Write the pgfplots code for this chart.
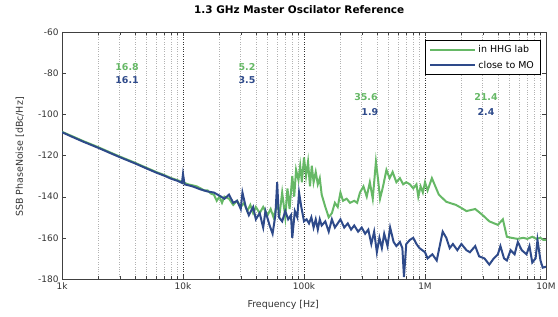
\documentclass[border=0pt]{standalone}
\usepackage{pgfplots}
\pgfplotsset{compat=1.18}
\usepackage{fontspec}
\setmainfont{DejaVu Sans}
\definecolor{cgreen}{HTML}{66B866}
\definecolor{cblue}{HTML}{2E4A8A}
\begin{document}
\begin{tikzpicture}
\useasboundingbox (-62bp,-38bp) rectangle (496bp,279bp);
\begin{axis}[
  at={(0,0)}, anchor=south west,
  scale only axis,
  width=484bp, height=247bp,
  xmode=log,
  xmin=1000, xmax=10000000,
  ymin=-180, ymax=-60,
  ytick={-180,-160,-140,-120,-100,-80,-60},
  xtick={1000,10000,100000,1000000,10000000},
  xticklabels={1k,10k,100k,1M,10M},
  tick align=inside,
  xtick pos=both, ytick pos=both,
  minor x tick num=0,
  xminorgrids=true, xmajorgrids=true,
  ymajorgrids=false,
  minor grid style={dotted, gray!60, line width=0.6pt},
  major grid style={dotted, black!80, line width=0.7pt},
  axis line style={black!75, line width=0.8pt},
  tick style={black!75},
  /pgf/number format/assume math mode=true,
  tick label style={font=\fontsize{9}{10}\selectfont, black!80},
  label style={font=\fontsize{9.5}{11}\selectfont, black!80},
  xlabel={Frequency [Hz]},
  ylabel={SSB PhaseNoise [dBc/Hz]},
  xlabel style={at={(axis description cs:0.457,-0.105)}, anchor=center},
  ylabel style={at={(axis description cs:-0.087,0.494)}, anchor=center},
  title={\bfseries 1.3 GHz Master Oscilator Reference},
  title style={font=\fontsize{10.5}{12}\selectfont, at={(axis description cs:0.49,1.065)}, anchor=center},
  legend style={at={(0.988,0.968)}, anchor=north east, font=\fontsize{9.5}{11}\selectfont, draw=black, line width=0.6pt, row sep=3pt, inner xsep=4pt, inner ysep=3pt},
  legend cell align=left,
  legend image code/.code={\draw[mark repeat=2,mark phase=2,#1] plot coordinates {(0cm,0cm) (0.8cm,0cm) (1.6cm,0cm)};},
]
\addplot[color=cgreen, line width=2pt] coordinates {
(1000,-108.5)(1200,-110.5)(1500,-113)(2000,-116)(2500,-118.5)(3000,-120.5)
(4000,-123.5)(5000,-126)(6000,-128)(7000,-129.5)(8000,-131)(9000,-132)
(10000,-133)(11000,-134)(12000,-134.5)(13000,-135)(14000,-136)(15000,-137)
(16000,-137)(17000,-138.5)(18000,-139)(19000,-142)(20000,-140)(21000,-143)
(22000,-140)(24000,-141)(26000,-144)(28000,-142)(30000,-145)(32000,-143)
(34000,-147)(36000,-144)(38000,-148)(40000,-145)(43000,-148)(46000,-145)
(50000,-149)(53000,-146)(56000,-150)(60000,-144)(63000,-148)(66000,-138)
(70000,-150)(73000,-136)(76000,-146)(80000,-130)(83000,-140)(86000,-127)
(90000,-132)(93000,-125)(96000,-133)(100000,-121)(104000,-130)(108000,-123)
(112000,-135)(116000,-125)(120000,-133)(125000,-128)(130000,-134)(135000,-131)
(140000,-139)(150000,-145)(160000,-150)(170000,-148)(180000,-143)(190000,-145)
(200000,-138)(210000,-142)(225000,-141)(240000,-143)(260000,-142)(275000,-143)
(290000,-138)(310000,-135)(330000,-140)(350000,-133)(370000,-141)(393000,-123)
(410000,-132)(425000,-141)(450000,-135)(480000,-127)(510000,-131)(540000,-128)
(580000,-133)(620000,-131)(660000,-134)(700000,-133)(750000,-134)(800000,-136)
(850000,-134)(880000,-140)(920000,-135)(960000,-138)(1000000,-133)(1050000,-137)
(1140000,-131)(1300000,-139)(1500000,-142.5)(1800000,-144)(2000000,-145.5)
(2200000,-147)(2600000,-146)(3000000,-149)(3400000,-152)(4000000,-153.7)
(4400000,-151)(4750000,-159.5)(5200000,-160)(5800000,-160.5)(6500000,-160)
(7000000,-160.5)(7700000,-159.5)(8300000,-160.5)(9000000,-160)(9500000,-161)
(10000000,-161)
};
\addlegendentry{in HHG lab}
\addplot[color=cblue, line width=2pt] coordinates {
(1000,-108.7)(1200,-110.8)(1500,-113.3)(2000,-116.3)(2500,-118.8)(3000,-120.8)
(4000,-123.8)(5000,-126.3)(6000,-128.3)(7000,-129.8)(8000,-131.3)(9000,-132.3)
(9800,-133.3)(10000,-129)(10300,-134)(12000,-135)(14000,-136.5)(16000,-137.5)
(18000,-138)(20000,-139.5)(22000,-141)(24000,-139)(26000,-143)(28000,-142)
(30000,-146)(31000,-138)(33000,-145)(35000,-149)(38000,-145)(40000,-151)
(43000,-148)(46000,-155)(48000,-147)(52000,-154)(55000,-158)(58000,-149)
(60000,-133)(62000,-150)(66000,-152)(70000,-147)(74000,-151)(78000,-149)
(80000,-160)(84000,-147)(88000,-150)(91000,-138)(95000,-145)(100000,-152)
(105000,-151)(110000,-153)(115000,-150)(120000,-155)(125000,-151)(130000,-156)
(135000,-151)(140000,-154)(150000,-152)(160000,-157)(170000,-151)(180000,-155)
(190000,-153)(200000,-151)(215000,-155)(230000,-153)(245000,-156)(260000,-154)
(280000,-157)(300000,-155)(320000,-158)(340000,-156)(360000,-163)(380000,-157)
(400000,-167)(420000,-160)(440000,-165)(460000,-158)(490000,-164)(515000,-155)
(550000,-162)(580000,-164)(620000,-162)(650000,-165)(670000,-179)(700000,-163)
(750000,-161)(800000,-160)(850000,-163)(900000,-165)(950000,-166)(1000000,-167)
(1050000,-170)(1150000,-168)(1250000,-171)(1400000,-157)(1500000,-160)
(1600000,-165)(1700000,-163)(1850000,-166)(2000000,-163)(2200000,-166)
(2350000,-167)(2600000,-164)(2800000,-169)(3100000,-170)(3400000,-173)
(3700000,-170)(4000000,-168)(4200000,-164)(4500000,-170)(4750000,-171)
(5100000,-166)(5500000,-168)(5850000,-162)(6300000,-166)(6900000,-168)
(7300000,-164)(7700000,-172)(8200000,-170)(8500000,-161)(9000000,-171)
(9400000,-174.5)(10000000,-174)
};
\addlegendentry{close to MO}
\node[cgreen, font=\fontsize{9.5}{10}\selectfont\bfseries] at (axis cs:3450,-77) {16.8};
\node[cblue, font=\fontsize{9.5}{10}\selectfont\bfseries] at (axis cs:3450,-83.3) {16.1};
\node[cgreen, font=\fontsize{9.5}{10}\selectfont\bfseries] at (axis cs:33800,-77) {5.2};
\node[cblue, font=\fontsize{9.5}{10}\selectfont\bfseries] at (axis cs:33800,-83.3) {3.5};
\node[cgreen, font=\fontsize{9.5}{10}\selectfont\bfseries] at (axis cs:325000,-91.5) {35.6};
\node[cblue, font=\fontsize{9.5}{10}\selectfont\bfseries] at (axis cs:350000,-98.8) {1.9};
\node[cgreen, font=\fontsize{9.5}{10}\selectfont\bfseries] at (axis cs:3190000,-91.5) {21.4};
\node[cblue, font=\fontsize{9.5}{10}\selectfont\bfseries] at (axis cs:3190000,-98.8) {2.4};
\end{axis}
\end{tikzpicture}
\end{document}
